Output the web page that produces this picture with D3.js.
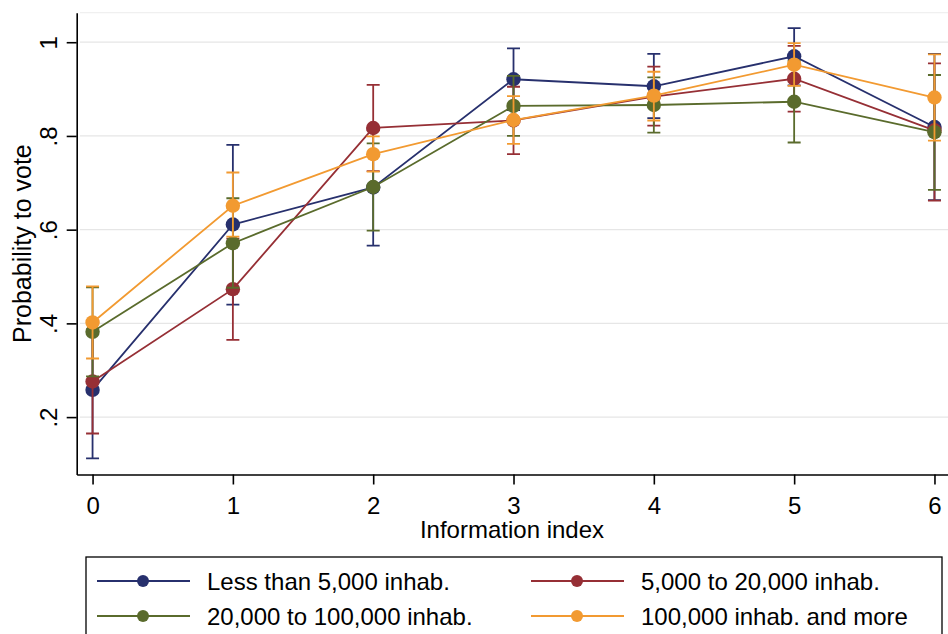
<!DOCTYPE html>
<html>
<head>
<meta charset="utf-8">
<script src="https://cdn.jsdelivr.net/npm/d3@7"></script>
<style>
  body { margin: 0; background: #fff; }
  #container { width: 948px; height: 634px; overflow: hidden; }
  text { font-family: "Liberation Sans", Arial, sans-serif; fill: #000; }
</style>
</head>
<body>
<div id="container"></div>
<script>
// data
let xValues = [0, 1, 2, 3, 4, 5, 6];
let yTicks = [0.2, 0.4, 0.6, 0.8, 1];
let seriesNames = ["Less than 5,000 inhab.", "5,000 to 20,000 inhab.", "20,000 to 100,000 inhab.", "100,000 inhab. and more"];

let meanSmall = [0.258, 0.611, 0.690, 0.921, 0.906, 0.970, 0.819];
let loSmall   = [0.112, 0.440, 0.566, 0.855, 0.838, 0.908, 0.663];
let hiSmall   = [0.404, 0.781, 0.813, 0.987, 0.975, 1.030, 0.975];

let meanTown = [0.276, 0.473, 0.817, 0.833, 0.884, 0.922, 0.812];
let loTown   = [0.165, 0.365, 0.725, 0.761, 0.822, 0.852, 0.662];
let hiTown   = [0.387, 0.581, 0.909, 0.905, 0.948, 0.992, 0.955];

let meanMid = [0.382, 0.571, 0.691, 0.864, 0.866, 0.873, 0.808];
let loMid   = [0.287, 0.476, 0.598, 0.800, 0.807, 0.786, 0.685];
let hiMid   = [0.477, 0.667, 0.784, 0.928, 0.925, 0.960, 0.930];

let meanBig = [0.402, 0.651, 0.761, 0.834, 0.886, 0.952, 0.882];
let loBig   = [0.325, 0.585, 0.724, 0.783, 0.833, 0.907, 0.790];
let hiBig   = [0.479, 0.722, 0.799, 0.885, 0.937, 0.998, 0.974];

let colors = ["#27306d", "#962f35", "#5a6b2c", "#f29a31"];

let series = [
    { name: seriesNames[0], mean: meanSmall, lo: loSmall, hi: hiSmall, color: colors[0] },
    { name: seriesNames[1], mean: meanTown, lo: loTown, hi: hiTown, color: colors[1] },
    { name: seriesNames[2], mean: meanMid, lo: loMid, hi: hiMid, color: colors[2] },
    { name: seriesNames[3], mean: meanBig, lo: loBig, hi: hiBig, color: colors[3] }
];

// canvas
let width = 948, height = 634;
let svg = d3.select("#container")
    .append("svg")
    .attr("width", width)
    .attr("height", height);

// scales
let xScale = d3.scaleLinear()
    .domain([-0.113, 6.1])
    .range([76.7, 948.5]);

let yScale = d3.scaleLinear()
    .domain([0.0775, 1.063])
    .range([474.5, 12.7]);

// gridlines
svg.append("g")
    .selectAll("line")
    .data(yTicks)
    .enter()
    .append("line")
    .attr("x1", 80)
    .attr("x2", width)
    .attr("y1", d => yScale(d))
    .attr("y2", d => yScale(d))
    .attr("stroke", "#e6e6e6")
    .attr("stroke-width", 1.2);

svg.append("line")
    .attr("x1", 80).attr("x2", width)
    .attr("y1", yScale.range()[1]).attr("y2", yScale.range()[1])
    .attr("stroke", "#f0f0f0")
    .attr("stroke-width", 1.2);

// axes
let fmt = d => d === 1 ? "1" : String(d).replace("0.", ".");

let yg = svg.append("g")
    .attr("transform", "translate(76.7,0)")
    .call(d3.axisLeft(yScale).tickValues(yTicks).tickSize(10).tickSizeOuter(0).tickFormat(fmt));
yg.selectAll("text")
    .attr("x", null).attr("dy", null)
    .attr("text-anchor", "middle")
    .attr("transform", "translate(-20,0) rotate(-90)")
    .style("font-size", "24px");

let xg = svg.append("g")
    .attr("transform", "translate(0,474.5)")
    .call(d3.axisBottom(xScale).tickValues(xValues).tickSize(10).tickSizeOuter(0).tickFormat(d3.format("d")));
xg.selectAll("text")
    .attr("y", 39).attr("dy", null)
    .style("font-size", "24px");

svg.selectAll(".domain, .tick line")
    .attr("stroke", "#000")
    .attr("stroke-width", 1.6);

// axis titles
svg.append("text")
    .attr("transform", "translate(31," + ((474.5 + 12.7) / 2) + ") rotate(-90)")
    .attr("text-anchor", "middle")
    .style("font-size", "25px")
    .text("Probability to vote");

svg.append("text")
    .attr("x", 512)
    .attr("y", 538)
    .attr("text-anchor", "middle")
    .style("font-size", "24px")
    .text("Information index");

// series: lines, error bars, points
let line = d3.line()
    .x((d, i) => xScale(xValues[i]))
    .y(d => yScale(d));

series.forEach(function (s) {
    let g = svg.append("g");
    let capW = 6.5;

    g.selectAll(".bar")
        .data(xValues)
        .enter()
        .append("path")
        .attr("d", function (x, i) {
            let cx = xScale(x), y1 = yScale(s.lo[i]), y2 = yScale(s.hi[i]);
            return "M" + (cx - capW) + "," + y1 + "H" + (cx + capW) +
                "M" + cx + "," + y1 + "V" + y2 +
                "M" + (cx - capW) + "," + y2 + "H" + (cx + capW);
        })
        .attr("fill", "none")
        .attr("stroke", s.color)
        .attr("stroke-width", 1.8);

    g.append("path")
        .datum(s.mean)
        .attr("d", line)
        .attr("fill", "none")
        .attr("stroke", s.color)
        .attr("stroke-width", 1.8);

    g.selectAll("circle")
        .data(s.mean)
        .enter()
        .append("circle")
        .attr("cx", (d, i) => xScale(xValues[i]))
        .attr("cy", d => yScale(d))
        .attr("r", 7.2)
        .attr("fill", s.color);
});

// legend
svg.append("rect")
    .attr("x", 86)
    .attr("y", 557)
    .attr("width", 856)
    .attr("height", 100)
    .attr("fill", "#fff")
    .attr("stroke", "#000")
    .attr("stroke-width", 1.3);

let legendPos = [
    { x: 97, y: 581 },
    { x: 531, y: 581 },
    { x: 97, y: 616 },
    { x: 531, y: 616 }
];

series.forEach(function (s, i) {
    let p = legendPos[i];
    let lg = svg.append("g").attr("transform", "translate(" + p.x + "," + p.y + ")");
    lg.append("line")
        .attr("x1", 0).attr("x2", 93)
        .attr("y1", 0).attr("y2", 0)
        .attr("stroke", s.color)
        .attr("stroke-width", 2);
    lg.append("circle")
        .attr("cx", 46).attr("cy", 0)
        .attr("r", 6)
        .attr("fill", s.color);
    lg.append("text")
        .attr("x", 110)
        .attr("y", 9)
        .style("font-size", "24px")
        .text(s.name);
});
</script>
</body>
</html>
